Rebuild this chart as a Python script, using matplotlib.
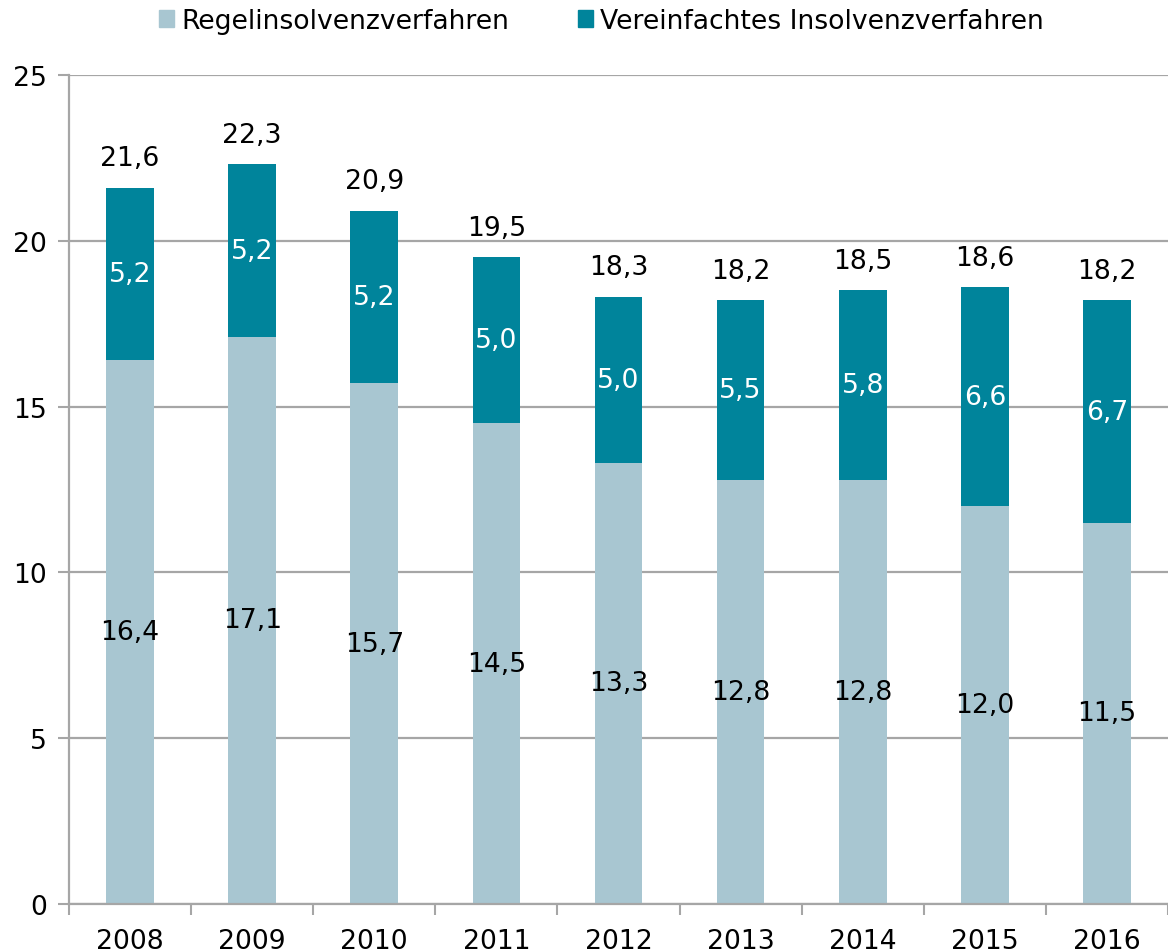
import matplotlib
matplotlib.use("Agg")
import matplotlib.pyplot as plt
from matplotlib.patches import Patch
import numpy as np

years = ["2008", "2009", "2010", "2011", "2012", "2013", "2014", "2015", "2016"]
regel = [16.4, 17.1, 15.7, 14.5, 13.3, 12.8, 12.8, 12.0, 11.5]
vereinfacht = [5.2, 5.2, 5.2, 5.0, 5.0, 5.5, 5.8, 6.6, 6.7]
totals = [21.6, 22.3, 20.9, 19.5, 18.3, 18.2, 18.5, 18.6, 18.2]
yticks = [0, 5, 10, 15, 20, 25]
series_names = ["Regelinsolvenzverfahren", "Vereinfachtes Insolvenzverfahren"]

c_light = "#A8C6D1"
c_dark = "#00849B"
c_grid = "#A6A6A6"

plt.rcParams['font.family'] = ['DejaVu Sans']
fs = 19.2

fig = plt.figure(figsize=(11.68, 9.53), dpi=100)
ax = fig.add_axes([0.0591, 0.0504, 0.9409, 0.8699])

x = np.arange(len(years))
w = 0.39
regel_a = np.array(regel)
dark_h = np.array(totals) - regel_a
ax.bar(x, regel_a, width=w, color=c_light, zorder=3)
ax.bar(x, dark_h, width=w, bottom=regel_a, color=c_dark, zorder=3)

def fmt(v):
    return f"{v:.1f}".replace(".", ",")

for i in range(len(years)):
    ax.text(x[i], regel[i] / 2, fmt(regel[i]), ha="center", va="center",
            fontsize=fs, color="black", zorder=4)
    ax.text(x[i], regel[i] + dark_h[i] / 2, fmt(vereinfacht[i]), ha="center",
            va="center", fontsize=fs, color="white", zorder=4)
    ax.annotate(fmt(totals[i]), (x[i], totals[i]), xytext=(0, 12),
                textcoords="offset points", ha="center", va="bottom",
                fontsize=fs, color="black", zorder=4)

ax.set_xlim(-0.5, len(years) - 0.5)
ax.set_ylim(0, 25)
ax.set_yticks(yticks)
ax.set_yticklabels([str(t) for t in yticks], fontsize=fs)
ax.set_xticks(x)
ax.set_xticklabels(years, fontsize=fs)
ax.set_xticks(np.arange(-0.5, len(years) + 0.5, 1), minor=True)
ax.tick_params(axis="x", which="major", length=0, pad=17)
ax.tick_params(axis="x", which="minor", length=8, width=1.5, color=c_grid, direction="out")
ax.tick_params(axis="y", length=8, width=1.5, color=c_grid, pad=8)

ax.grid(axis="y", color=c_grid, linewidth=1.6, zorder=0)
for s in ["top", "right"]:
    ax.spines[s].set_visible(False)
for s in ["left", "bottom"]:
    ax.spines[s].set_color(c_grid)
    ax.spines[s].set_linewidth(1.6)
    ax.spines[s].set_zorder(5)

handles = [Patch(color=c_light), Patch(color=c_dark)]
fig.legend(handles, series_names, loc="center", bbox_to_anchor=(0.515, 0.977), ncol=2,
           frameon=False, fontsize=fs, handlelength=0.55, handleheight=0.55,
           handletextpad=0.27, columnspacing=2.6, borderaxespad=0)

fig.savefig("out.png", dpi=100)
